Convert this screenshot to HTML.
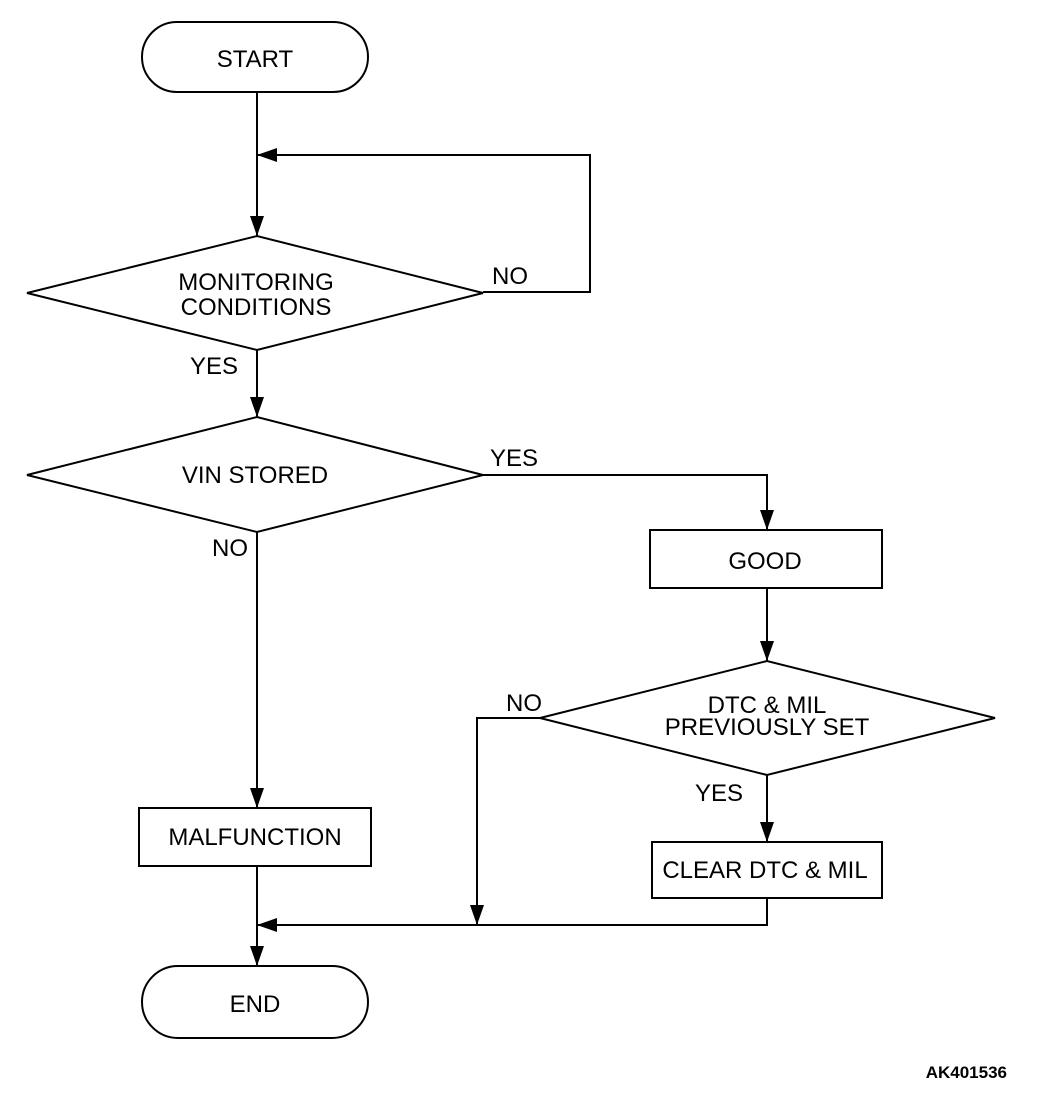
<!DOCTYPE html>
<html><head><meta charset="utf-8"><style>
html,body{margin:0;padding:0;background:#fff;}
svg{display:block;}
text{font-family:"Liberation Sans",Arial,sans-serif;font-size:24px;fill:#000;}
</style></head><body>
<svg width="1056" height="1098" viewBox="0 0 1056 1098" xmlns="http://www.w3.org/2000/svg">
<defs>
<marker id="a" markerWidth="20" markerHeight="14" refX="20" refY="7" orient="auto" markerUnits="userSpaceOnUse">
<path d="M0,0 L20,7 L0,14 Z" fill="#000"/></marker>
</defs>
<g fill="none" stroke="#000" stroke-width="2">
<rect x="142" y="22" width="226" height="70" rx="35"/>
<rect x="142" y="966" width="226" height="72" rx="36"/>
<polygon points="27,293 257,236 483,293 257,350"/>
<polygon points="27,475 257,417 483,475 257,532"/>
<polygon points="540,718 767,661 995,718 767,775"/>
<rect x="650" y="530" width="232" height="58"/>
<rect x="652" y="842" width="230" height="56"/>
<rect x="139" y="808" width="232" height="58"/>
<line x1="257" y1="92" x2="257" y2="236" marker-end="url(#a)"/>
<polyline points="483,292 590,292 590,155 257,155" marker-end="url(#a)"/>
<line x1="257" y1="350" x2="257" y2="417" marker-end="url(#a)"/>
<polyline points="483,475 767,475 767,530" marker-end="url(#a)"/>
<line x1="257" y1="532" x2="257" y2="808" marker-end="url(#a)"/>
<line x1="767" y1="588" x2="767" y2="661" marker-end="url(#a)"/>
<polyline points="540,718 477,718 477,925" marker-end="url(#a)"/>
<line x1="767" y1="775" x2="767" y2="842" marker-end="url(#a)"/>
<polyline points="767,898 767,925 257,925" marker-end="url(#a)"/>
<line x1="257" y1="866" x2="257" y2="966" marker-end="url(#a)"/>
</g>
<g text-anchor="middle">
<text x="255" y="67">START</text>
<text x="255" y="1012">END</text>
<text x="256" y="290">MONITORING</text>
<text x="256" y="315">CONDITIONS</text>
<text x="255" y="483">VIN STORED</text>
<text x="765" y="569">GOOD</text>
<text x="767" y="713">DTC &amp; MIL</text>
<text x="767" y="735">PREVIOUSLY SET</text>
<text x="765" y="878">CLEAR DTC &amp; MIL</text>
<text x="255" y="845">MALFUNCTION</text>
<text x="510" y="284">NO</text>
<text x="214" y="374">YES</text>
<text x="514" y="466">YES</text>
<text x="230" y="556">NO</text>
<text x="524" y="711">NO</text>
<text x="719" y="801">YES</text>
</g>
<text x="1007" y="1078" text-anchor="end" style="font-size:17px;font-weight:bold">AK401536</text>
</svg>
</body></html>
